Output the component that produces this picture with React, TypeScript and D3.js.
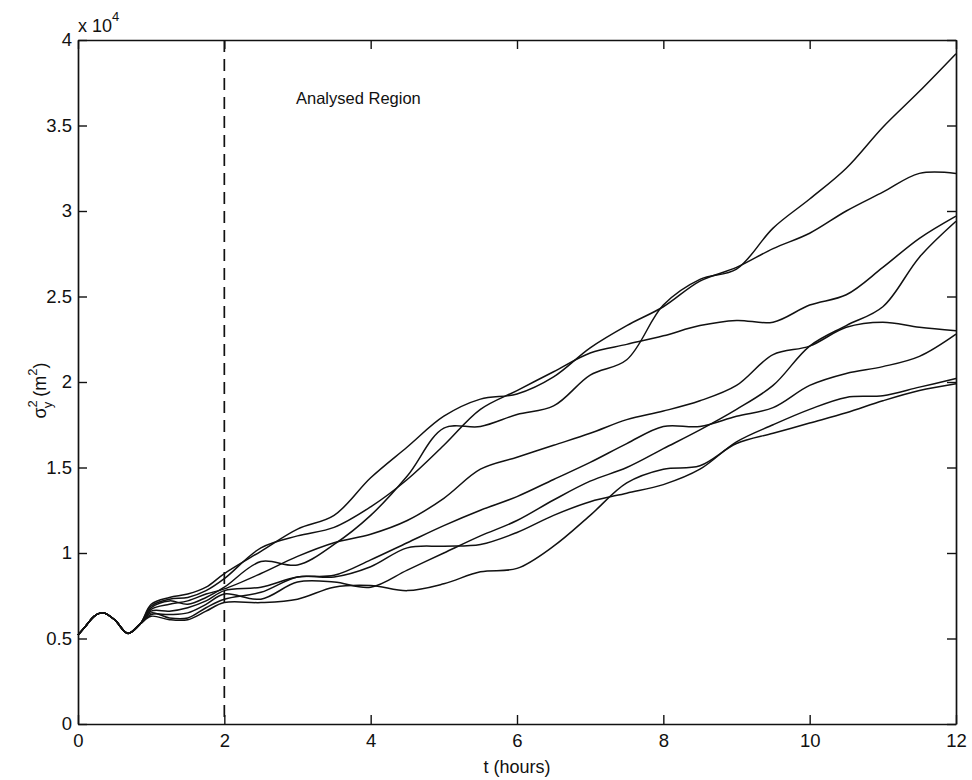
import React, { useEffect, useRef } from 'react';
import * as d3 from 'd3';

// time axis in hours, shared by all runs
const hours = [0, 0.12, 0.22, 0.34, 0.5, 0.68, 0.85, 1.0, 1.25, 1.5, 1.75, 2.0, 2.5, 3.0, 3.5, 4.0, 4.5, 5.0, 5.5, 6.0, 6.5, 7.0, 7.5, 8.0, 8.5, 9.0, 9.5, 10.0, 10.5, 11.0, 11.5, 12.0];

// sigma_y^2 in units of 10^4 m^2, one array per run
const runA = [0.52, 0.58, 0.63, 0.65, 0.61, 0.53, 0.585, 0.68, 0.72, 0.70, 0.74, 0.80, 0.95, 0.93, 1.05, 1.22, 1.45, 1.73, 1.74, 1.81, 1.86, 2.04, 2.13, 2.45, 2.60, 2.66, 2.90, 3.07, 3.25, 3.49, 3.70, 3.92];
const runB = [0.52, 0.58, 0.63, 0.65, 0.61, 0.53, 0.585, 0.70, 0.74, 0.76, 0.80, 0.88, 1.01, 1.14, 1.22, 1.44, 1.62, 1.80, 1.90, 1.93, 2.03, 2.20, 2.33, 2.44, 2.59, 2.67, 2.78, 2.87, 3.00, 3.11, 3.22, 3.22];
const runC = [0.52, 0.58, 0.63, 0.65, 0.61, 0.53, 0.585, 0.69, 0.73, 0.74, 0.78, 0.85, 1.03, 1.10, 1.15, 1.27, 1.43, 1.63, 1.84, 1.95, 2.06, 2.17, 2.22, 2.27, 2.33, 2.36, 2.35, 2.45, 2.51, 2.67, 2.84, 2.97];
const runD = [0.52, 0.58, 0.63, 0.65, 0.61, 0.53, 0.585, 0.64, 0.64, 0.65, 0.70, 0.76, 0.73, 0.83, 0.83, 0.80, 0.90, 1.00, 1.10, 1.19, 1.31, 1.42, 1.50, 1.61, 1.72, 1.84, 1.98, 2.21, 2.33, 2.44, 2.73, 2.94];
const runE = [0.52, 0.58, 0.63, 0.65, 0.61, 0.53, 0.585, 0.67, 0.70, 0.72, 0.76, 0.79, 0.88, 0.98, 1.06, 1.11, 1.19, 1.32, 1.49, 1.56, 1.63, 1.70, 1.78, 1.83, 1.89, 1.98, 2.16, 2.21, 2.32, 2.35, 2.32, 2.30];
const runF = [0.52, 0.58, 0.63, 0.65, 0.61, 0.53, 0.585, 0.66, 0.66, 0.68, 0.72, 0.78, 0.80, 0.86, 0.87, 0.96, 1.06, 1.16, 1.25, 1.33, 1.43, 1.53, 1.64, 1.74, 1.74, 1.80, 1.85, 1.98, 2.05, 2.09, 2.15, 2.28];
const runG = [0.52, 0.58, 0.63, 0.65, 0.61, 0.53, 0.585, 0.65, 0.62, 0.62, 0.68, 0.73, 0.77, 0.86, 0.86, 0.92, 1.03, 1.04, 1.05, 1.12, 1.22, 1.30, 1.35, 1.40, 1.49, 1.65, 1.75, 1.84, 1.91, 1.92, 1.97, 2.02];
const runH = [0.52, 0.58, 0.63, 0.65, 0.61, 0.53, 0.585, 0.63, 0.61, 0.61, 0.66, 0.71, 0.71, 0.73, 0.80, 0.81, 0.78, 0.82, 0.89, 0.91, 1.04, 1.22, 1.41, 1.49, 1.51, 1.64, 1.70, 1.76, 1.82, 1.89, 1.95, 1.99];

const runs = [runA, runB, runC, runD, runE, runF, runG, runH];

const xTicks = [0, 2, 4, 6, 8, 10, 12];
const yTicks = [0, 0.5, 1, 1.5, 2, 2.5, 3, 3.5, 4];
const yTickLabels = ['0', '0.5', '1', '1.5', '2', '2.5', '3', '3.5', '4'];
const regionStart = 2;

const FONT = '"Liberation Sans", Arial, Helvetica, sans-serif';

const App = () => {
  const ref = useRef<SVGSVGElement | null>(null);

  useEffect(() => {
    if (!ref.current) return;
    const width = 972, height = 780;
    const margin = { top: 40, right: 16, bottom: 56, left: 78 };

    const svg = d3.select(ref.current);
    svg.selectAll('*').remove();
    svg.attr('width', width).attr('height', height);

    const x = d3.scaleLinear().domain([0, 12]).range([margin.left, width - margin.right]);
    const y = d3.scaleLinear().domain([0, 4]).range([height - margin.bottom, margin.top]);

    // curves
    const line = d3.line<number>()
      .x((d, i) => x(hours[i]))
      .y(d => y(d))
      .curve(d3.curveCatmullRom.alpha(0.5));

    svg.append('g')
      .selectAll('path')
      .data(runs)
      .enter()
      .append('path')
      .attr('d', d => line(d))
      .attr('fill', 'none')
      .attr('stroke', '#111')
      .attr('stroke-width', 1.5);

    // dashed marker of the analysed region
    svg.append('line')
      .attr('x1', x(regionStart)).attr('x2', x(regionStart))
      .attr('y1', y(4)).attr('y2', y(0))
      .attr('stroke', '#111')
      .attr('stroke-width', 1.7)
      .attr('stroke-dasharray', '12,7');

    // axes, ticks pointing inwards
    const styleAxis = (g: any) => {
      g.selectAll('path').attr('stroke', '#111').attr('stroke-width', 1.7);
      g.selectAll('line').attr('stroke', '#111').attr('stroke-width', 1.4);
      g.selectAll('text').attr('fill', '#111').style('font-family', FONT).style('font-size', '18.5px');
    };

    svg.append('g')
      .attr('transform', `translate(0,${y(0)})`)
      .call(d3.axisBottom(x).tickValues(xTicks).tickFormat(d3.format('d')).tickSizeInner(-9).tickSizeOuter(0).tickPadding(10))
      .call(styleAxis);

    svg.append('g')
      .attr('transform', `translate(0,${y(4)})`)
      .call(d3.axisTop(x).tickValues(xTicks).tickFormat(() => '').tickSizeInner(-9).tickSizeOuter(0))
      .call(styleAxis);

    svg.append('g')
      .attr('transform', `translate(${x(0)},0)`)
      .call(d3.axisLeft(y).tickValues(yTicks).tickFormat((d, i) => yTickLabels[i]).tickSizeInner(-9).tickSizeOuter(0).tickPadding(6))
      .call(styleAxis);

    svg.append('g')
      .attr('transform', `translate(${x(12)},0)`)
      .call(d3.axisRight(y).tickValues(yTicks).tickFormat(() => '').tickSizeInner(-9).tickSizeOuter(0))
      .call(styleAxis);

    // exponent label
    const expo = svg.append('text')
      .attr('x', x(0))
      .attr('y', 32)
      .style('font-family', FONT)
      .style('font-size', '18px')
      .attr('fill', '#111');
    expo.append('tspan').text('x 10');
    expo.append('tspan').attr('dy', -11).style('font-size', '13px').text('4');

    // annotation
    svg.append('text')
      .attr('x', 296)
      .attr('y', 104)
      .style('font-family', FONT)
      .style('font-size', '16.5px')
      .attr('fill', '#111')
      .text('Analysed Region');

    // x label
    svg.append('text')
      .attr('x', (x(0) + x(12)) / 2)
      .attr('y', 773)
      .attr('text-anchor', 'middle')
      .style('font-family', FONT)
      .style('font-size', '18px')
      .attr('fill', '#111')
      .text('t (hours)');

    // y label: sigma_y^2 (m^2)
    const yl = svg.append('text')
      .attr('transform', `translate(46,${y(1.95)}) rotate(-90)`)
      .attr('text-anchor', 'middle')
      .style('font-family', FONT)
      .style('font-size', '18px')
      .attr('fill', '#111');
    yl.append('tspan').text('\u03c3');
    yl.append('tspan').attr('dy', -9).style('font-size', '13px').text('2');
    yl.append('tspan').attr('dx', -8).attr('dy', 15).style('font-size', '13px').text('y');
    yl.append('tspan').attr('dy', -6).text(' (m');
    yl.append('tspan').attr('dy', -9).style('font-size', '13px').text('2');
    yl.append('tspan').attr('dy', 9).text(')');
  }, []);

  return (
    <div style={{ position: 'absolute', left: 0, top: 0 }}>
      <svg ref={ref} />
    </div>
  );
};

export default App;
